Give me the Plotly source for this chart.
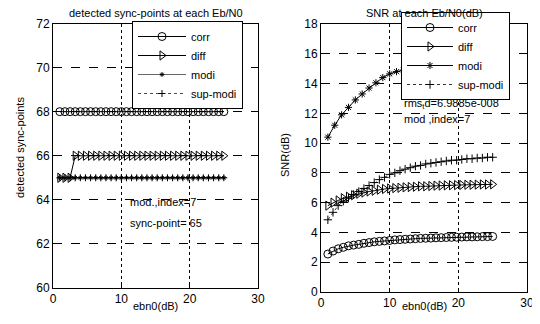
import plotly.graph_objects as go

# ---- data ----
x_step = [1, 1.75, 2.5, 3.25, 4, 4.75, 5.5, 6.25, 7, 7.75, 8.5, 9.25, 10, 10.75, 11.5,
          12.25, 13, 13.75, 14.5, 15.25, 16, 16.75, 17.5, 18.25, 19, 19.75, 20.5,
          21.25, 22, 22.75, 23.5, 24.25, 25]
x_int = list(range(1, 26))

# left: detected sync-points
sync_corr = [68] * 33
sync_diff = [65, 65, 65] + [66] * 30
sync_modi = [65] * 33
sync_supmodi = [65] * 33

# right: SNR (dB)
snr_corr = [2.55, 2.75, 2.9, 3.0, 3.1, 3.15, 3.2, 3.27, 3.32, 3.37, 3.4, 3.43, 3.46, 3.5,
            3.52, 3.54, 3.56, 3.58, 3.6, 3.61, 3.62, 3.64, 3.65, 3.66, 3.67, 3.68, 3.69,
            3.7, 3.7, 3.71, 3.72, 3.72, 3.73]
snr_diff = [5.8, 6.0, 6.15, 6.3, 6.4, 6.5, 6.6, 6.68, 6.75, 6.8, 6.87, 6.92, 6.95, 6.98,
            7.0, 7.03, 7.05, 7.07, 7.1, 7.1, 7.12, 7.14, 7.15, 7.16, 7.17, 7.18, 7.19,
            7.2, 7.2, 7.21, 7.22, 7.22, 7.23]
snr_modi = [10.4, 11.2, 11.9, 12.4, 12.9, 13.3, 13.7, 14.05, 14.4, 14.65, 14.8, 14.9,
            15.0, 15.1, 15.2, 15.25, 15.3, 15.35, 15.4, 15.45, 15.5, 15.5, 15.55, 15.6, 15.6]
snr_supmodi = [4.85, 5.35, 5.8, 6.1, 6.3, 6.55, 6.75, 6.95, 7.15, 7.35, 7.55, 7.7, 7.9,
               8.0, 8.15, 8.25, 8.35, 8.45, 8.5, 8.6, 8.65, 8.7, 8.75, 8.8, 8.85, 8.85,
               8.9, 8.95, 8.95, 9.0, 9.0, 9.05, 9.05]

names = ["corr", "diff", "modi", "sup-modi"]
x_ticks = [0, 10, 20, 30]
left_yticks = [60, 62, 64, 66, 68, 70, 72]
right_yticks = [0, 2, 4, 6, 8, 10, 12, 14, 16, 18]

FONT = "Liberation Sans, Arial, sans-serif"
K = "black"

# page geometry: the page body adds an 8px offset, so screenshot pixels are shifted by it
OFF = 8
FW, FH = 540, 324


def px(xp):
    return (xp - OFF) / FW


def py(yp):
    return 1 - (yp - OFF) / FH


fig = go.Figure()

styles_left = [
    dict(symbol="circle-open", size=8, dash="solid", width=1),
    dict(symbol="triangle-right-open", size=8, dash="solid", width=1),
    dict(symbol="asterisk-open", size=4, dash="solid", width=0.6),
    dict(symbol="cross-thin-open", size=5, dash="dot", width=0.7),
]
styles_right = [
    dict(symbol="circle-open", size=8, dash="solid", width=1),
    dict(symbol="triangle-right-open", size=8, dash="solid", width=1),
    dict(symbol="asterisk-open", size=6, dash="solid", width=1),
    dict(symbol="cross-thin-open", size=6, dash="dot", width=0.8),
]

left_series = [(x_step, sync_corr), (x_step, sync_diff), (x_step, sync_modi), (x_step, sync_supmodi)]
right_series = [(x_step, snr_corr), (x_step, snr_diff), (x_int, snr_modi), (x_step, snr_supmodi)]

for i, (xs, ys) in enumerate(left_series):
    st = styles_left[i]
    fig.add_trace(go.Scatter(
        x=xs, y=ys, mode="lines+markers", name=names[i], legend="legend",
        xaxis="x", yaxis="y",
        line=dict(color=K, width=st["width"], dash=st["dash"]),
        marker=dict(symbol=st["symbol"], size=st["size"], color=K, line=dict(color=K, width=1)),
    ))

for i, (xs, ys) in enumerate(right_series):
    st = styles_right[i]
    fig.add_trace(go.Scatter(
        x=xs, y=ys, mode="lines+markers", name=names[i], legend="legend2",
        xaxis="x2", yaxis="y2",
        line=dict(color=K, width=st["width"], dash=st["dash"]),
        marker=dict(symbol=st["symbol"], size=st["size"], color=K, line=dict(color=K, width=1)),
    ))

axis_common = dict(
    showline=True, linecolor=K, linewidth=1, mirror=True,
    ticks="inside", ticklen=4, tickcolor=K,
    showgrid=True, gridcolor=K, gridwidth=1,
    zeroline=False, automargin=False,
    tickfont=dict(family=FONT, size=12, color=K),
)

fig.update_layout(
    width=FW, height=FH,
    margin=dict(l=0, r=0, t=0, b=0, autoexpand=False),
    paper_bgcolor="white", plot_bgcolor="white",
    font=dict(family=FONT, size=11, color=K),
    xaxis=dict(domain=[px(53), px(258)], range=[0, 30], tickvals=x_ticks, anchor="y",
               griddash="dot", **axis_common),
    yaxis=dict(domain=[py(288), py(23.5)], range=[60, 72], tickvals=left_yticks, anchor="x",
               griddash="dash", **axis_common),
    xaxis2=dict(domain=[px(321), px(527)], range=[0, 30], tickvals=x_ticks, anchor="y2",
                griddash="dot", **axis_common),
    yaxis2=dict(domain=[py(292), py(24)], range=[0, 18], tickvals=right_yticks, anchor="x2",
                griddash="dash", **axis_common),
    legend=dict(x=px(132), y=py(21), xanchor="left", yanchor="top",
                bgcolor="white", bordercolor=K, borderwidth=1,
                font=dict(family=FONT, size=11), itemwidth=48, tracegroupgap=0,
                traceorder="normal"),
    legend2=dict(x=px(401), y=py(12), xanchor="left", yanchor="top",
                 bgcolor="white", bordercolor=K, borderwidth=1,
                 font=dict(family=FONT, size=11), itemwidth=46, tracegroupgap=0,
                 traceorder="normal"),
    showlegend=True,
)

annots = [
    dict(text="detected sync-points at each Eb/N0", x=px((53 + 258) / 2), y=py(13),
         xref="paper", yref="paper", showarrow=False, xanchor="center", yanchor="middle"),
    dict(text="SNR at each Eb/N0(dB)", x=px((321 + 527) / 2), y=py(13),
         xref="paper", yref="paper", showarrow=False, xanchor="center", yanchor="middle"),
    dict(text="ebn0(dB)", x=15, xref="x", y=py(306), yref="paper", showarrow=False,
         xanchor="center", yanchor="middle"),
    dict(text="ebn0(dB)", x=15, xref="x2", y=py(306), yref="paper", showarrow=False,
         xanchor="center", yanchor="middle"),
    dict(text="detected sync-points", x=px(20), y=py(148), xref="paper", yref="paper",
         showarrow=False, textangle=-90, xanchor="center", yanchor="middle"),
    dict(text="SNR(dB)", x=px(285), y=py(155), xref="paper", yref="paper",
         showarrow=False, textangle=-90, xanchor="center", yanchor="middle"),
    dict(text="mod.,index=7", x=11, y=63.9, xref="x", yref="y", showarrow=False,
         xanchor="left", yanchor="middle"),
    dict(text="sync-point= 65", x=11, y=62.95, xref="x", yref="y", showarrow=False,
         xanchor="left", yanchor="middle"),
    dict(text="rms<sub>t</sub>d=6.9885e-008", x=11.8, y=12.6, xref="x2", yref="y2",
         showarrow=False, xanchor="left", yanchor="middle"),
    dict(text="mod ,index=7", x=11.8, y=11.6, xref="x2", yref="y2", showarrow=False,
         xanchor="left", yanchor="middle"),
]
fig.update_layout(annotations=[dict(a, font=dict(family=FONT, size=11, color=K)) for a in annots])

fig.write_html("out.html")
